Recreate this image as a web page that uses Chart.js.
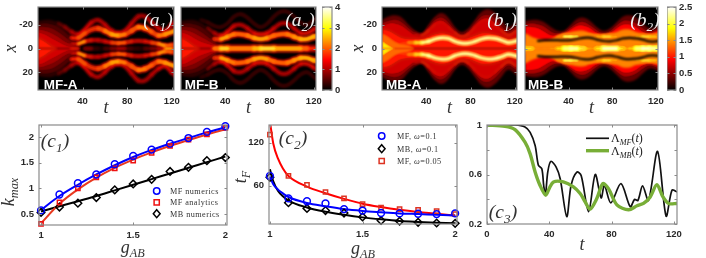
<!DOCTYPE html>
<html>
<head>
<meta charset="utf-8">
<script src="https://cdn.jsdelivr.net/npm/chart.js@4"></script>
<style>
html, body { margin: 0; padding: 0; background: #fff; width: 706px; height: 258px; overflow: hidden; }
canvas { position: absolute; }
.note { position: absolute; transform: translate(-50%, -50%); white-space: nowrap; line-height: 1; }
.math { font: italic 18px "Liberation Serif", serif; color: #333; }
.math sub { font-size: 68%; line-height: 0; }
.panel { font-size: 19.5px; }
.white { color: #eee; }
.tag { font: bold 13.5px "Liberation Sans", sans-serif; color: #fff; }
.key { font: 8.2px "Liberation Serif", serif; letter-spacing: .45px; color: #333; transform: translate(0, -50%); }
.key2 { font: 12px "Liberation Serif", serif; color: #222; transform: translate(0, -50%); }
.key2 sub { font-size: 68%; line-height: 0; font-style: italic; }
.rot { transform: translate(-50%, -50%) rotate(-90deg); }
</style>
</head>
<body>
<script>
var _ = null;

// heat map time samples
var tH = [0, 6, 12, 18, 24, 30, 36, 42, 48, 54, 60, 66, 72, 78, 84, 90, 96, 102, 108, 114, 120, 126];

// panel a1
var a1Blob25 = [23, 24, 24, 22, 18, 12, 0];
var a1Blob45 = [21, 22, 21, 19, 15, 9, 0];
var a1Blob70 = [19, 19, 18, 15, 11, 6, 0];
var a1Blob95 = [17, 16, 14, 11, 7, 4, 0];
var a1Blob120 = [15, 13, 10, 7, 4, 2, 0];
var a1Blob160 = [10, 7, 3, 0];
var a1OuterX = [_, _, _, 21, 18, 14, 12, 16, 22, 24, 20, 15, 13, 15, 21, 27, 27, 22, 17, 15, 20, 25];
var a1OuterI = [0, 0, 0, .7, 1, 1.3, 1.5, 1.5, 1.3, 1.3, 1.4, 1.5, 1.4, 1.4, 1.3, 1.2, 1.2, 1.3, 1.5, 1.5, 1.4, 1.3];
var a1MidX = [_, _, _, _, _, 9, 9, 13, 16, 17, 15, 12, 11, 12, 15, 18, 17, 14, 11, 12, 14, 16];
var a1MidI = [0, 0, 0, 0, 0, 1.8, 2.3, 2, 2, 2.2, 2.6, 2.9, 2.6, 2.2, 2.3, 2.6, 2.4, 2.2, 2.6, 2.8, 2.8, 2.6];
var a1InnerX = [_, _, _, _, _, 4, 4, 6, 7, 7, 6, 5, 4.5, 5, 6, 6.5, 6, 5, 4, 2.5, 3, 4];
var a1InnerI = [0, 0, 0, 0, 0, 1.6, 2.8, 1.8, 1.5, 1.4, 1.6, 2.2, 2.4, 1.9, 1.6, 1.6, 1.7, 2.2, 2.8, 2.4, 2, 1.8];
var a1CoreX = [_, _, _, _, _, 0, 0, 0, 0, 0, 0, 0, 0, 0, 0, 0, 0, 0, 0, 0, 0, 0];
var a1CoreI = [0, 0, 0, 0, 0, 1.8, 0, 1, .4, .2, .6, 1, 1.3, .6, .4, .3, .7, 1, 1.4, 2.9, 2.2, 1.6];

// panel a2
var a2Blob25 = [23, 24, 24, 22, 18, 12, 0];
var a2Blob45 = [21, 22, 21, 19, 15, 9, 0];
var a2Blob70 = [19, 19, 18, 15, 11, 6, 0];
var a2Blob95 = [17, 16, 14, 11, 8, 4, 0];
var a2Blob120 = [15, 13, 10, 7, 5, 3, 0];
var a2Blob160 = [10, 7, 3, 0];
var a2DimX = [_, _, _, 24, 22, 19, 18, 21, 27, 29, 26, 21, 18, 21, 27, 31, 31, 27, 22, 20, 24, 28];
var a2DimI = [0, 0, 0, .4, .5, .5, .5, .5, .5, .5, .5, .5, .5, .5, .5, .5, .5, .5, .5, .5, .5, .5];
var a2OuterX = [_, _, _, _, 17, 13, 11, 14, 19, 20, 17, 13, 12, 13, 17, 21, 21, 17, 13, 13, 16, 20];
var a2OuterI = [0, 0, 0, 0, .9, 1.3, 1.6, 1.5, 1.3, 1.3, 1.4, 1.6, 1.6, 1.5, 1.3, 1.3, 1.3, 1.4, 1.6, 1.6, 1.4, 1.3];
var a2MidX = [_, _, _, _, _, 8, 8, 10, 12, 12, 11, 9, 8, 9, 11, 12, 12, 10, 8, 8, 10, 11];
var a2MidI = [0, 0, 0, 0, 0, 2, 2.9, 2.6, 2.4, 2.4, 2.6, 2.9, 2.9, 2.5, 2.4, 2.4, 2.6, 2.8, 3, 3, 2.8, 2.6];
var a2CoreX = [_, _, _, _, _, 0, 0, 0, 0, 0, 0, 0, 0, 0, 0, 0, 0, 0, 0, 0, 0, 0];
var a2CoreI = [0, 0, 0, 0, 0, 2.5, 3.2, 2.6, 2.6, 2.6, 2.6, 3, 3.3, 3.3, 2.9, 2.9, 2.9, 2.9, 2.4, 1.8, 1.8, 1.8];

// panel b1
var b1Env35 = [24, 27, 28, 26, 20, 15, 13, 20, 27, 30, 26, 18, 14, 17, 24, 31, 33, 30, 24, 18, 21, 26];
var b1Env55 = [22, 24, 25, 23, 18, 14, 12, 18, 25, 27, 23, 16, 12, 15, 22, 28, 29, 26, 20, 15, 18, 23];
var b1Env75 = [20, 22, 22, 20, 16, 12, 11, 17, 23, 24, 20, 14, 11, 14, 20, 25, 26, 22, 17, 13, 15, 20];
var b1Core100 = [17, 16, 13, 10, 9, 9, 9, 11, 13, 14, 13, 11, 9, 10, 12, 14, 14, 13, 11, 9, 9, 10];
var b1Left130 = [13, 10, 6, 4, 3, 0];
var b1Left180 = [7, 3, 0];
var b1FlankX = [_, _, _, _, _, 12, 11, 15, 20, 22, 18, 13, 10, 12, 18, 23, 24, 20, 15, 11, 14, 18];
var b1FlankI = [0, 0, 0, 0, 0, 1, 1.2, 1.1, 1, 1, 1.1, 1.2, 1.2, 1.1, 1, 1, 1, 1.1, 1.2, 1.2, 1.1, 1];
var b1RidgeX = [_, _, _, 5, 5, 5, 5, 6, 8, 9, 8.5, 6, 4.5, 4.5, 6, 8, 9, 8.5, 7, 5, 6, 8];
var b1RidgeI = [0, 0, 0, 1.2, 1.6, 2, 2.4, 2.5, 2.5, 2.5, 2.5, 2.5, 2.5, 2.5, 2.5, 2.5, 2.5, 2.5, 2.5, 2.5, 2.5, 2.5];

// panel b2
var b2Env35 = [23, 24, 24, 22, 18, 15, 15, 20, 25, 26, 23, 18, 15, 17, 22, 27, 28, 26, 21, 17, 18, 22];
var b2Env60 = [21, 22, 21, 19, 15, 13, 14, 18, 22, 23, 20, 16, 13, 15, 20, 24, 24, 22, 18, 15, 16, 20];
var b2Env90 = [19, 19, 18, 15, 12, 12, 13, 17, 20, 20, 18, 14, 12, 14, 18, 21, 21, 19, 15, 13, 15, 18];
var b2Env140 = [13, 10, 8, 7, 8, 11, 13, 14, 15, 15, 13, 12, 12, 13, 14, 16, 16, 14, 13, 12, 13, 14];
var b2CoreX = [0, 0, 0, 0, 0, 0, 0, 0, 0, 0, 0, 0, 0, 0, 0, 0, 0, 0, 0, 0, 0, 0];
var b2CoreI = [1.9, 1.4, 1.35, 1.4, 1.5, 1.8, 2.2, 2.3, 2, 1.6, 1.5, 1.9, 2.4, 2.4, 1.9, 1.5, 1.7, 2.2, 2.4, 2.3, 2.1, 1.9];
var b2LobeX = [_, _, _, _, _, 9, 10, 10, 10, 11, 11, 10, 10, 10, 10, 11, 11, 10, 10, 10, 10, 10];
var b2LobeI = [0, 0, 0, 0, 0, 1.6, 2.2, 2.1, 1.6, 1.4, 1.5, 1.8, 2, 1.8, 1.5, 1.4, 1.5, 1.8, 2, 1.9, 1.6, 1.5];
var b2GapX = [_, _, 6.5, 7, 7, 7, 6.8, 7, 8, 9, 9, 7.5, 6.3, 6, 7, 8.5, 9, 8.5, 7.5, 6, 6, 7];

// bottom row
var gAB = [1, 1.1, 1.2, 1.3, 1.4, 1.5, 1.6, 1.7, 1.8, 1.9, 2];
var kMfNumeric = [0.57, 0.88, 1.10, 1.27, 1.47, 1.63, 1.755, 1.87, 1.98, 2.10, 2.21];
var kMfAnalytic = [0.31, 0.725, 1.0, 1.215, 1.39, 1.54, 1.69, 1.825, 1.95, 2.05, 2.18];
var kMbNumeric = [0.53, 0.635, 0.71, 0.82, 0.97, 1.085, 1.175, 1.33, 1.41, 1.54, 1.60];
var kMfNumericFit = [0.58, 0.85, 1.07, 1.27, 1.45, 1.61, 1.75, 1.87, 1.98, 2.09, 2.19];
var kMfAnalyticFit = [0.32, 0.70, 0.98, 1.21, 1.40, 1.56, 1.70, 1.83, 1.94, 2.05, 2.15];
var kMbNumericFit = [0.55, 0.65, 0.75, 0.85, 0.96, 1.07, 1.18, 1.29, 1.40, 1.51, 1.62];

var tfMf01 = [73.5, 42, 38, 35, 27, 25, 21.5, 21, 20.5, 20, 21];
var tfMb01 = [71.6, 36, 28, 25, 21.5, 16, 11, 10, 8.5, 7.5, 7];
var tfMf005 = [131.6, 73.5, 61, 51, 42, 34, 29, 27, 26, 24, 20];
var gFit = [1, 1.018, 1.045, 1.07, 1.1, 1.2, 1.3, 1.4, 1.5, 1.6, 1.7, 1.8, 1.9, 2];
var tfMf01Fit = [72.5, 62, 54, 49, 44, 35.6, 31, 27, 24.4, 22.6, 21, 20, 19, 18];
var tfMb01Fit = [83, 66, 52, 45, 39, 29.3, 23.3, 19, 15.4, 12.6, 10.3, 9, 8, 7];
var tfMf005Fit = [150, 119, 97, 84, 73.5, 58.6, 49.3, 41.4, 34.5, 29.8, 26, 23, 20.6, 18];

var tMf = [0, 18, 24.4, 27.7, 30.9, 33, 35.2, 36.4, 37.5, 39, 41, 44.4, 47, 51.2, 54, 57.7, 60.5, 65.2, 69.5, 73.3, 75.4, 79.5, 86, 92, 94.7, 96.9, 99.9, 103.7, 109.5, 115, 118.8, 122];
var lambdaMf = [1, 1, .984, .94, .835, .674, .647, .513, .433, .62, .706, .66, .566, .26, .513, .62, .59, .30, .6, .411, .513, .371, .526, .339, .398, .39, .508, .39, .786, .264, .473, .46];
var tMb = [0, 11.6, 18, 24.4, 27.7, 30.9, 34, 37.7, 39.9, 42.7, 49, 55.5, 59.8, 63, 66.2, 70.5, 74.4, 78, 83.4, 90.9, 96.3, 100.5, 104.8, 109.1, 113, 116.6, 122];
var lambdaMb = [1, .99, .963, .861, .767, .62, .513, .433, .486, .54, .54, .50, .446, .38, .32, .406, .526, .486, .355, .315, .347, .366, .419, .518, .419, .366, .366];

// tick labels
var tTicks = [40, 80, 120];
var xTicks = [-20, 0, 20];
var gTicks = [1, 1.5, 2];
var kTicks = [0.5, 1, 1.5, 2];
var tfTicks = [60, 120];
var c3XTicks = [0, 40, 80, 120];
var c3YTicks = [0.2, 0.4, 0.6, 0.8, 1];
var c3YLabels = [0.2, 0.6, 1];
var barTicksA = [0, 1, 2, 3, 4];
var barTicksB = [0, 0.5, 1, 1.5, 2, 2.5];

var TICK_FONT = { family: '"Liberation Sans", sans-serif', size: 9.5, weight: 'bold' };
var TITLE_FONT = { family: '"Liberation Serif", serif', size: 18, style: 'italic', weight: 'normal' };
var TICK_COLOR = '#2a2a2a';
var FRAME_COLOR = '#8a8a8a';

// matlab "hot", f in 0..1
function heat(f) {
    f = Math.max(0, Math.min(1, f));
    var r = Math.min(1, f / 0.365);
    var g = Math.max(0, Math.min(1, (f - 0.365) / 0.381));
    var b = Math.max(0, (f - 0.746) / 0.254);
    return 'rgb(' + Math.round(r * 255) + ',' + Math.round(g * 255) + ',' + Math.round(b * 255) + ')';
}

var framePlugin = {
    id: 'frame',
    afterDraw: function (chart) {
        var a = chart.chartArea, ctx = chart.ctx;
        ctx.save();
        ctx.strokeStyle = FRAME_COLOR;
        ctx.lineWidth = 1;
        ctx.beginPath();
        ['x', 'y'].forEach(function (id) {
            var s = chart.scales[id];
            if (!s || !s.options.display) return;
            s.ticks.forEach(function (t) {
                var p = Math.round(s.getPixelForValue(t.value)) + 0.5;
                if (id === 'x') {
                    ctx.moveTo(p, a.bottom); ctx.lineTo(p, a.bottom - 2.5);
                    ctx.moveTo(p, a.top); ctx.lineTo(p, a.top + 2.5);
                } else {
                    ctx.moveTo(a.left, p); ctx.lineTo(a.left + 2.5, p);
                    ctx.moveTo(a.right, p); ctx.lineTo(a.right - 2.5, p);
                }
            });
        });
        ctx.stroke();
        ctx.lineWidth = 1.2;
        ctx.strokeRect(a.left, a.top, a.right - a.left, a.bottom - a.top);
        ctx.restore();
    }
};

// legend keys sit at fixed spots inside the axes, the stock legend can't do that
var keysPlugin = {
    id: 'keys',
    afterDatasetsDraw: function (chart, args, opts) {
        var ctx = chart.ctx, box = chart.canvas.getBoundingClientRect();
        (opts.items || []).forEach(function (k) {
            var x = k.x - box.left, y = k.y - box.top;
            ctx.save();
            ctx.strokeStyle = k.color;
            ctx.lineWidth = k.width;
            ctx.beginPath();
            if (k.kind === 'line') {
                ctx.moveTo(x - 11.5, y); ctx.lineTo(x + 11.5, y);
            } else if (k.kind === 'circle') {
                ctx.arc(x, y, 3.2, 0, Math.PI * 2);
            } else if (k.kind === 'rect') {
                ctx.rect(x - 2.6, y - 2.6, 5.2, 5.2);
            } else {
                ctx.moveTo(x, y - 4); ctx.lineTo(x + 3.4, y); ctx.lineTo(x, y + 4); ctx.lineTo(x - 3.4, y); ctx.closePath();
            }
            ctx.stroke();
            ctx.restore();
        });
    }
};

// black backdrop plus max-blend so the hot colours add up like a height field
var heatPlugin = {
    id: 'heatBlend',
    beforeDatasetsDraw: function (chart) {
        var a = chart.chartArea, ctx = chart.ctx;
        ctx.fillStyle = '#000';
        ctx.fillRect(a.left, a.top, a.right - a.left, a.bottom - a.top);
        ctx.save();
        ctx.filter = 'blur(1.1px)';
        ctx.globalCompositeOperation = 'lighten';
    },
    beforeDatasetDraw: function (chart, args) {
        if (chart.data.datasets[args.index].valley)
            chart.ctx.globalCompositeOperation = 'source-over';
    },
    afterDatasetsDraw: function (chart) {
        chart.ctx.restore();
    }
};

function points(xs, ys, sign) {
    var out = [];
    ys.forEach(function (v, i) {
        out.push({ x: xs[i], y: v === null ? null : v * (sign || 1) });
    });
    return out;
}

function buildHeatSets(spec) {
    var sets = [];
    var common = { pointRadius: 0, tension: 0.4, clip: 0 };
    (spec.valleys || []).forEach(function (v) {
        [1, -1].forEach(function (s) {
            sets.push(Object.assign({}, common, { data: points(tH, v[0], s), borderColor: '#000', borderWidth: v[1], valley: true, borderCapStyle: 'round' }));
        });
    });
    spec.contours.forEach(function (c) {
        [1, -1].forEach(function (s) {
            sets.push(Object.assign({}, common, {
                data: points(tH, c[1], s),
                borderWidth: 0,
                fill: { target: { value: 0 } },
                backgroundColor: heat(c[0] / spec.max)
            }));
        });
    });
    spec.ridges.forEach(function (r) {
        var onAxis = r[0].every(function (v) { return v === null || v === 0; });
        [[1, .3], [.75, .6], [.5, .85], [.25, 1]].forEach(function (layer) {
            (onAxis ? [1] : [1, -1]).forEach(function (s) {
                sets.push(Object.assign({}, common, {
                    data: points(tH, r[0], s),
                    borderWidth: r[2] * layer[0],
                    borderCapStyle: 'round',
                    borderColor: heat(r[1][5] * layer[1] / spec.max),
                    segment: {
                        borderColor: function (ctx) { return heat(r[1][ctx.p0DataIndex] * layer[1] / spec.max); }
                    }
                }));
            });
        });
    });
    return sets;
}

function place(box, m) {
    var c = document.createElement('canvas');
    var w = box.r - box.l + m.l + m.r, h = box.b - box.t + m.t + m.b;
    c.width = w; c.height = h;
    c.style.left = (box.l - m.l) + 'px';
    c.style.top = (box.t - m.t) + 'px';
    c.style.width = w + 'px';
    c.style.height = h + 'px';
    document.body.appendChild(c);
    return c;
}

function fixedTicks(vals) {
    return function (scale) {
        scale.ticks = vals.map(function (v) { return { value: v }; });
    };
}

// the plot boxes are fixed, so drop the room the scale asks for around its end labels
function noPadding(s) {
    s.paddingLeft = s.paddingRight = s.paddingTop = s.paddingBottom = 0;
}

function makeAxes(o, m) {
    var axes = {
        x: {
            type: 'linear',
            min: o.xMin, max: o.xMax,
            grid: { display: false, drawTicks: false },
            border: { display: false },
            afterBuildTicks: fixedTicks(o.xTicks),
            afterFit: function (s) { s.height = m.b; noPadding(s); },
            ticks: { font: TICK_FONT, color: TICK_COLOR, padding: o.xPad, maxRotation: 0, autoSkip: false, callback: function (v) { return String(v); } },
            title: o.xTitle ? { display: true, text: o.xTitle, font: TITLE_FONT, color: '#333', padding: 0 } : { display: false }
        },
        y: {
            type: 'linear',
            min: o.yMin, max: o.yMax,
            reverse: !!o.yReverse,
            grid: { display: false, drawTicks: false },
            border: { display: false },
            afterBuildTicks: fixedTicks(o.yTicks),
            afterFit: function (s) { s.width = m.l; noPadding(s); },
            ticks: {
                display: !o.hideY, font: TICK_FONT, color: TICK_COLOR, padding: 5, autoSkip: false,
                callback: function (v) { return (!o.yLabels || o.yLabels.indexOf(v) >= 0) ? String(v) : ''; }
            },
            title: o.yTitle ? { display: true, text: o.yTitle, font: TITLE_FONT, color: '#333', padding: o.yTitlePad } : { display: false }
        }
    };
    return axes;
}

function baseOptions(o, m) {
    return {
        responsive: false,
        animation: false,
        devicePixelRatio: 1,
        layout: { autoPadding: false, padding: { top: m.t, right: m.r, left: 0, bottom: 0 } },
        plugins: { legend: { display: false }, tooltip: { enabled: false }, keys: { items: o.keys || [] } },
        scales: makeAxes(o, m)
    };
}

function heatPanel(box, spec, o) {
    var m = { l: 38, r: 12, t: 3, b: 29 };
    o.xMin = 0; o.xMax = 122; o.xTicks = tTicks; o.xTitle = 't'; o.xPad = 6;
    o.yMin = -35; o.yMax = 35; o.yReverse = true; o.yTicks = xTicks;
    new Chart(place(box, m), {
        type: 'line',
        data: { datasets: buildHeatSets(spec) },
        options: baseOptions(o, m),
        plugins: [heatPlugin, framePlugin]
    });
}

function colorBar(box, maxVal, vals) {
    var m = { l: 0, r: 22, t: 3, b: 4 };
    var stops = [0, 0.1, 0.2, 0.3, 0.365, 0.5, 0.6, 0.746, 0.85, 1];
    new Chart(place(box, m), {
        type: 'bar',
        data: {
            labels: [''],
            datasets: [{
                data: [maxVal],
                barPercentage: 1,
                categoryPercentage: 1,
                backgroundColor: function (c) {
                    var a = c.chart.chartArea;
                    if (!a) return '#000';
                    var g = c.chart.ctx.createLinearGradient(0, a.bottom, 0, a.top);
                    stops.forEach(function (s) { g.addColorStop(s, heat(s)); });
                    return g;
                }
            }]
        },
        options: {
            responsive: false,
            animation: false,
            devicePixelRatio: 1,
            layout: { autoPadding: false, padding: { top: m.t, bottom: m.b } },
            plugins: { legend: { display: false }, tooltip: { enabled: false } },
            scales: {
                x: { display: false },
                y: {
                    position: 'right', min: 0, max: maxVal,
                    grid: { display: false, drawTicks: false }, border: { display: false },
                    afterBuildTicks: fixedTicks(vals),
                    afterFit: function (s) { s.width = m.r; noPadding(s); },
                    ticks: { font: TICK_FONT, color: TICK_COLOR, padding: 3, autoSkip: false, callback: function (v) { return String(v); } }
                }
            }
        },
        plugins: [framePlugin]
    });
}

function fitLine(xs, ys, color, width) {
    return { data: points(xs, ys), borderColor: color, borderWidth: width, pointRadius: 0, cubicInterpolationMode: 'monotone', order: 2 };
}

function marks(xs, ys, color, style, r) {
    return {
        data: points(xs, ys), showLine: false, pointStyle: style, pointRadius: r,
        pointBorderColor: color, pointBackgroundColor: 'rgba(0,0,0,0)', pointBorderWidth: 1.5, clip: false, order: 1
    };
}

function linePanel(box, sets, o) {
    var m = { l: 38, r: 12, t: 3, b: 32 };
    o.xPad = 5;
    new Chart(place(box, m), {
        type: 'line',
        data: { datasets: sets },
        options: baseOptions(o, m),
        plugins: [framePlugin, keysPlugin]
    });
}

// top row
heatPanel({ l: 38, t: 7, r: 174, b: 90 }, {
    max: 4,
    contours: [[.25, a1Blob25], [.45, a1Blob45], [.7, a1Blob70], [.95, a1Blob95], [1.2, a1Blob120], [1.6, a1Blob160]],
    ridges: [[a1OuterX, a1OuterI, 5], [a1MidX, a1MidI, 6.5], [a1InnerX, a1InnerI, 4.5], [a1CoreX, a1CoreI, 4.5]]
}, { yTitle: 'x', yTitlePad: 0 });

heatPanel({ l: 181, t: 7, r: 316, b: 90 }, {
    max: 4,
    contours: [[.25, a2Blob25], [.45, a2Blob45], [.7, a2Blob70], [.95, a2Blob95], [1.2, a2Blob120], [1.6, a2Blob160]],
    ridges: [[a2DimX, a2DimI, 3.5], [a2OuterX, a2OuterI, 5], [a2MidX, a2MidI, 6.5], [a2CoreX, a2CoreI, 8]]
}, { hideY: true });

colorBar({ l: 322, t: 7, r: 332, b: 90 }, 4, barTicksA);

heatPanel({ l: 382, t: 7, r: 517, b: 90 }, {
    max: 2.5,
    contours: [[.35, b1Env35], [.55, b1Env55], [.75, b1Env75], [1, b1Core100], [1.3, b1Left130], [1.8, b1Left180]],
    ridges: [[b1FlankX, b1FlankI, 3.5], [b1RidgeX, b1RidgeI, 6.5]]
}, { yTitle: 'x', yTitlePad: 3 });

heatPanel({ l: 525, t: 7, r: 658, b: 90 }, {
    max: 2.5,
    contours: [[.35, b2Env35], [.6, b2Env60], [.9, b2Env90], [1.4, b2Env140]],
    ridges: [[b2LobeX, b2LobeI, 6.5], [b2CoreX, b2CoreI, 14]],
    valleys: [[b2GapX, 2.2]]
}, { hideY: true });

colorBar({ l: 667, t: 7, r: 676, b: 90 }, 2.5, barTicksB);

// bottom row
linePanel({ l: 39, t: 125, r: 227, b: 225 }, [
    marks(gAB, kMfNumeric, '#0000ff', 'circle', 3.4),
    marks(gAB, kMfAnalytic, '#ee1111', 'rect', 3),
    marks(gAB, kMbNumeric, '#000000', 'rectRot', 3.8),
    fitLine(gAB, kMfNumericFit, '#0000ff', 2),
    fitLine(gAB, kMfAnalyticFit, '#e8391f', 2),
    fitLine(gAB, kMbNumericFit, '#000000', 2)
], {
    xMin: 0.989, xMax: 2.009, xTicks: gTicks,
    yMin: 0.286, yMax: 2.234, yTicks: kTicks,
    keys: [
        { kind: 'circle', color: '#0000ff', width: 1.5, x: 156.7, y: 191 },
        { kind: 'rect', color: '#ee1111', width: 1.5, x: 156.7, y: 202.3 },
        { kind: 'diamond', color: '#000000', width: 1.5, x: 156.7, y: 213.7 }
    ]
});

linePanel({ l: 269, t: 125, r: 457, b: 224 }, [
    marks(gAB, tfMf01, '#0000ff', 'circle', 3.4),
    marks(gAB, tfMb01, '#000000', 'rectRot', 3.8),
    marks(gAB, tfMf005, '#dd3322', 'rect', 3),
    fitLine(gFit, tfMf01Fit, '#0000ff', 2),
    fitLine(gFit, tfMb01Fit, '#000000', 2),
    fitLine(gFit, tfMf005Fit, '#ff0000', 2)
], {
    xMin: 0.995, xMax: 2.01, xTicks: gTicks,
    yMin: 6.1, yMax: 145, yTicks: tfTicks,
    keys: [
        { kind: 'circle', color: '#0000ff', width: 1.5, x: 381.7, y: 136 },
        { kind: 'diamond', color: '#000000', width: 1.5, x: 381.7, y: 148.7 },
        { kind: 'rect', color: '#dd3322', width: 1.5, x: 381.7, y: 161 }
    ]
});

linePanel({ l: 487, t: 125, r: 677, b: 224 }, [
    { data: points(tMb, lambdaMb), borderColor: '#78ae37', borderWidth: 3.4, pointRadius: 0, tension: 0.3, order: 1 },
    { data: points(tMf, lambdaMf), borderColor: '#111111', borderWidth: 1.7, pointRadius: 0, tension: 0.3, order: 2 }
], {
    xMin: 0, xMax: 122, xTicks: c3XTicks,
    yMin: 0.2, yMax: 1, yTicks: c3YTicks, yLabels: c3YLabels,
    xTitle: 't',
    keys: [
        { kind: 'line', color: '#111111', width: 1.7, x: 597.5, y: 138.3 },
        { kind: 'line', color: '#78ae37', width: 3.4, x: 597.5, y: 150.7 }
    ]
});

// labels with subscripts, not something the axis titles can do
var notes = [
    ['(<i>a</i><sub>1</sub>)', 158, 20, 'math panel white'],
    ['(<i>a</i><sub>2</sub>)', 300, 20, 'math panel white'],
    ['(<i>b</i><sub>1</sub>)', 502, 20, 'math panel white'],
    ['(<i>b</i><sub>2</sub>)', 645, 20, 'math panel white'],
    ['MF-A', 60.7, 84, 'tag'],
    ['MF-B', 201.7, 84, 'tag'],
    ['MB-A', 403.7, 84, 'tag'],
    ['MB-B', 545.7, 84, 'tag'],
    ['(<i>c</i><sub>1</sub>)', 55, 141, 'math panel'],
    ['(<i>c</i><sub>2</sub>)', 293, 138, 'math panel'],
    ['(<i>c</i><sub>3</sub>)', 503, 212, 'math panel'],
    ['<i>k</i><sub>max</sub>', 8, 192, 'math rot'],
    ['<i>t</i><sub>F</sub>', 240, 177, 'math rot'],
    ['<i>g</i><sub>AB</sub>', 132.7, 247, 'math'],
    ['<i>g</i><sub>AB</sub>', 363, 248, 'math'],
    ['MF numerics', 170, 191, 'key'],
    ['MF analytics', 170, 202.3, 'key'],
    ['MB numerics', 170, 213.7, 'key'],
    ['MF, <i>ω</i>=0.1', 397, 136, 'key'],
    ['MB, <i>ω</i>=0.1', 397, 148.7, 'key'],
    ['MF, <i>ω</i>=0.05', 397, 161, 'key'],
    ['Λ<sub>MF</sub>(<i>t</i>)', 611, 138.3, 'key2'],
    ['Λ<sub>MB</sub>(<i>t</i>)', 611, 150.7, 'key2']
];

notes.forEach(function (n) {
    var d = document.createElement('div');
    d.className = 'note ' + n[3];
    d.innerHTML = n[0];
    d.style.left = n[1] + 'px';
    d.style.top = n[2] + 'px';
    document.body.appendChild(d);
});
</script>
</body>
</html>
